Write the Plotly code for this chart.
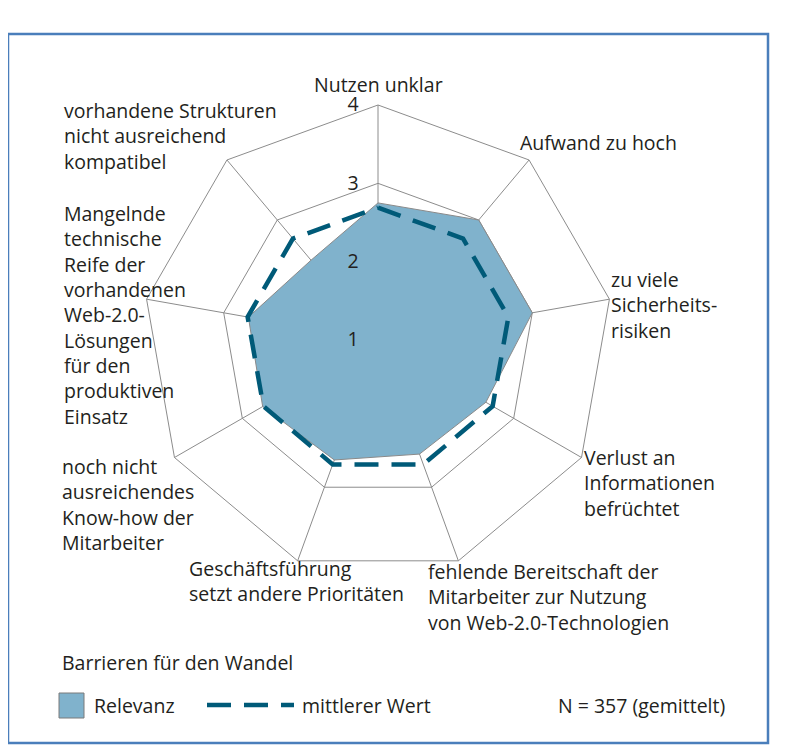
import plotly.graph_objects as go

W, H = 788, 747

categories = [
    "Nutzen unklar",
    "Aufwand zu hoch",
    "zu viele Sicherheitsrisiken",
    "Verlust an Informationen befrüchtet",
    "fehlende Bereitschaft der Mitarbeiter zur Nutzung von Web-2.0-Technologien",
    "Geschäftsführung setzt andere Prioritäten",
    "noch nicht ausreichendes Know-how der Mitarbeiter",
    "Mangelnde technische Reife der vorhandenen Web-2.0-Lösungen für den produktiven Einsatz",
    "vorhandene Strukturen nicht ausreichend kompatibel",
]
label_lines = [
    "Nutzen unklar",
    "Aufwand zu hoch",
    "zu viele<br>Sicherheits-<br>risiken",
    "Verlust an<br>Informationen<br>befrüchtet",
    "fehlende Bereitschaft der<br>Mitarbeiter zur Nutzung<br>von Web-2.0-Technologien",
    "Geschäftsführung<br>setzt andere Prioritäten",
    "noch nicht<br>ausreichendes<br>Know-how der<br>Mitarbeiter",
    "Mangelnde<br>technische<br>Reife der<br>vorhandenen<br>Web-2.0-<br>Lösungen<br>für den<br>produktiven<br>Einsatz",
    "vorhandene Strukturen<br>nicht ausreichend<br>kompatibel",
]
relevanz = [2.75, 3.0, 3.0, 2.59, 2.55, 2.63, 2.70, 2.68, 2.33]
mittlerer_wert = [2.69, 2.69, 2.69, 2.69, 2.69, 2.69, 2.69, 2.69, 2.69]
radial_ticks = [1, 2, 3, 4]

FONT = "Open Sans"
FS = 19.5
TXT = "#231f20"
GRID = "#8c8c8c"
FILL = "#80b2cc"
DARK = "#005a78"
OFF = 8  # page body margin

def px(x):
    return (x - OFF) / W

def py(y):
    return 1 - (y - OFF) / H

cx, cy, R = 378, 340, 235

fig = go.Figure()
fig.add_trace(go.Scatterpolar(
    r=relevanz + relevanz[:1], theta=categories + categories[:1],
    fill="toself", fillcolor=FILL, mode="lines",
    line=dict(color="#8a8a8a", width=1), name="Relevanz", showlegend=False,
))
fig.add_trace(go.Scatterpolar(
    r=mittlerer_wert + mittlerer_wert[:1], theta=categories + categories[:1],
    mode="lines", line=dict(color=DARK, width=4.5, dash="24px,13px"),
    name="mittlerer Wert", showlegend=False,
))

fig.update_layout(
    width=W, height=H, margin=dict(l=0, r=0, t=0, b=0),
    paper_bgcolor="white", plot_bgcolor="white",
    font=dict(family=FONT, color=TXT, size=FS),
    showlegend=False,
    polar=dict(
        domain=dict(x=[px(cx - R), px(cx + R)], y=[py(cy + R), py(cy - R)]),
        gridshape="linear",
        bgcolor="rgba(0,0,0,0)",
        radialaxis=dict(
            range=[1, 4], tickvals=radial_ticks, ticktext=[str(v) for v in radial_ticks],
            angle=90, tickangle=90, side="counterclockwise", showline=False,
            gridcolor=GRID, gridwidth=1,
            ticks="outside", ticklen=12, tickcolor="rgba(0,0,0,0)",
            tickfont=dict(size=FS, color=TXT, family=FONT), layer="above traces",
        ),
        angularaxis=dict(
            categoryorder="array", categoryarray=categories,
            rotation=90, direction="clockwise", showticklabels=False, ticks="",
            gridcolor=GRID, gridwidth=1, showline=True, linecolor=GRID, linewidth=1,
            layer="above traces",
        ),
    ),
)

# category labels (text blocks around the chart)
label_pos = [
    (378, 85, "center"),
    (518, 142, "left"),
    (609, 305, "left"),
    (582, 483, "left"),
    (426, 597, "left"),
    (187, 581, "left"),
    (60, 504, "left"),
    (62, 315, "left"),
    (62, 136, "left"),
]
for text, (x, y, anc) in zip(label_lines, label_pos):
    fig.add_annotation(x=px(x), y=py(y), xref="paper", yref="paper", text=text,
                       showarrow=False, xanchor=anc, yanchor="middle", align=anc,
                       font=dict(size=FS, color=TXT, family=FONT))

# frame
fig.add_shape(type="rect", xref="paper", yref="paper", x0=px(8), x1=px(768),
              y0=py(743), y1=py(34), line=dict(color="#4a7ebb", width=2.5))

# title / legend area
fig.add_annotation(x=px(60), y=py(662), xref="paper", yref="paper",
                   text="Barrieren für den Wandel", showarrow=False,
                   xanchor="left", yanchor="middle", font=dict(size=FS, color=TXT, family=FONT))
fig.add_shape(type="rect", xref="paper", yref="paper", x0=px(59), x1=px(84),
              y0=py(718), y1=py(693), fillcolor=FILL, line=dict(color="#7a7a7a", width=1))
fig.add_annotation(x=px(92), y=py(705), xref="paper", yref="paper", text="Relevanz",
                   showarrow=False, xanchor="left", yanchor="middle",
                   font=dict(size=FS, color=TXT, family=FONT))
fig.add_shape(type="line", xref="paper", yref="paper", x0=px(207), x1=px(294),
              y0=py(705), y1=py(705), line=dict(color=DARK, width=4.5, dash="24px,13px"))
fig.add_annotation(x=px(300), y=py(705), xref="paper", yref="paper", text="mittlerer Wert",
                   showarrow=False, xanchor="left", yanchor="middle",
                   font=dict(size=FS, color=TXT, family=FONT))
fig.add_annotation(x=px(556), y=py(705), xref="paper", yref="paper", text="N = 357 (gemittelt)",
                   showarrow=False, xanchor="left", yanchor="middle",
                   font=dict(size=FS, color=TXT, family=FONT))

fig.write_html("out.html")
